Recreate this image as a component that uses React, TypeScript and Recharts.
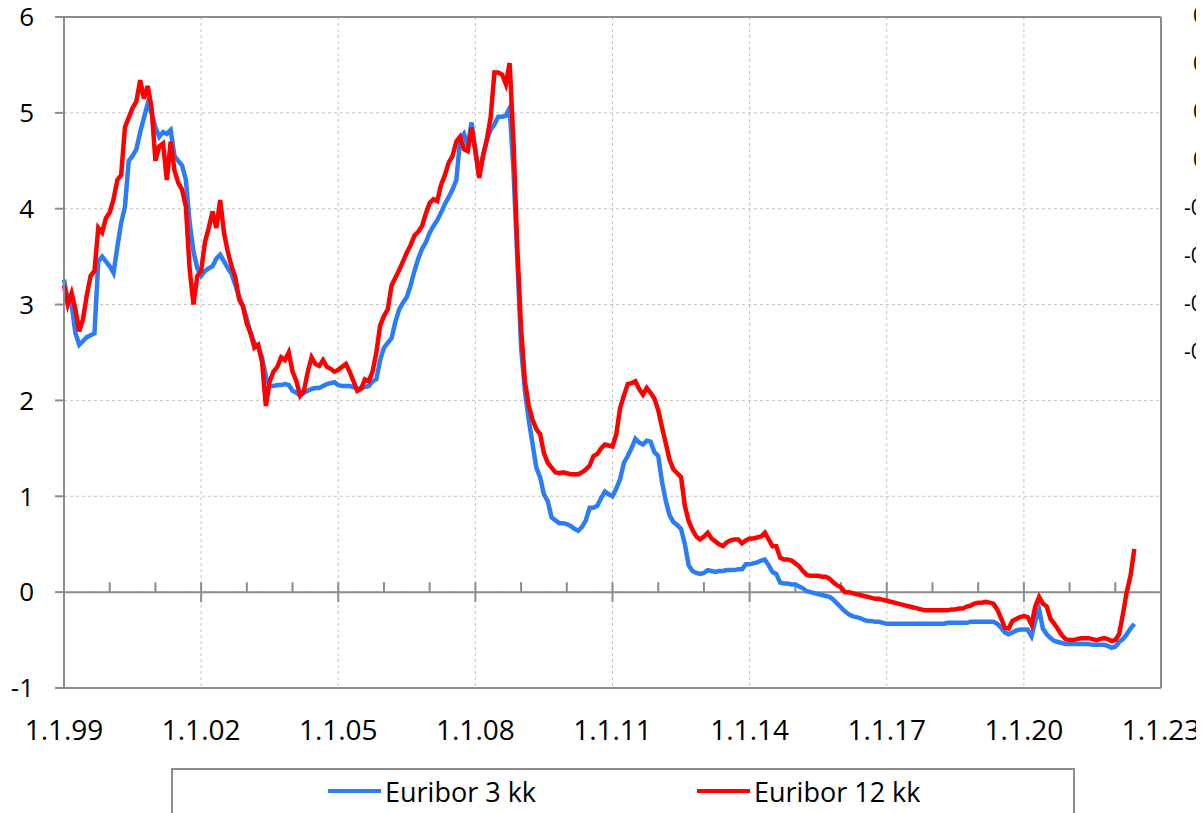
import { LineChart, Line, XAxis, YAxis, CartesianGrid, ReferenceLine, Legend } from 'recharts';

const FONT = "'Open Sans', sans-serif";
const GRAY = '#8c8c8c';

// x axis: months since 1.1.1999
const YEAR_LABELS = ['1.1.99', '1.1.02', '1.1.05', '1.1.08', '1.1.11', '1.1.14', '1.1.17', '1.1.20', '1.1.23'];
const X_TICKS = [0, 36, 72, 108, 144, 180, 216, 252, 288];
const Y_TICKS = [-1, 0, 1, 2, 3, 4, 5, 6];
const RIGHT_TICKS = [0.7, 0.5, 0.3, 0.1, -0.1, -0.3, -0.5, -0.7];

const SERIES_NAMES = ['Euribor 3 kk', 'Euribor 12 kk'];
const SERIES_COLORS = ['#2c7df3', '#ff0000'];

// monthly values, Jan 1999 .. Jun 2022
const euribor3 = [
  3.26, 3.05, 3.0, 2.7, 2.58, 2.62, 2.66, 2.68, 2.7, 3.45, 3.5, 3.45,
  3.4, 3.33, 3.6, 3.85, 4.02, 4.5, 4.55, 4.62, 4.8, 4.95, 5.1, 5.0,
  4.85, 4.75, 4.8, 4.78, 4.82, 4.55, 4.5, 4.45, 4.3, 3.85, 3.55, 3.38,
  3.3, 3.35, 3.38, 3.4, 3.48, 3.52, 3.45, 3.38, 3.32, 3.2, 3.08, 2.98,
  2.85, 2.7, 2.6, 2.55, 2.45, 2.25, 2.15, 2.15, 2.16, 2.16, 2.17, 2.16,
  2.1, 2.08, 2.05, 2.08, 2.1, 2.12, 2.13, 2.13, 2.15, 2.17, 2.18, 2.19,
  2.16, 2.15, 2.15, 2.15, 2.14, 2.12, 2.13, 2.14, 2.15, 2.2, 2.22, 2.42,
  2.55, 2.6, 2.65, 2.82, 2.95, 3.02, 3.08, 3.2, 3.35, 3.48, 3.58, 3.65,
  3.75, 3.82, 3.88, 3.96, 4.05, 4.12, 4.2, 4.3, 4.72, 4.78, 4.65, 4.9,
  4.6, 4.35, 4.55, 4.72, 4.82, 4.88, 4.96, 4.96, 4.97, 5.05, 4.4, 3.5,
  2.55, 2.1, 1.8, 1.55, 1.3, 1.2, 1.02, 0.95, 0.78, 0.75, 0.72, 0.72,
  0.71, 0.69, 0.66, 0.64, 0.68, 0.75, 0.88, 0.88, 0.9, 0.98, 1.05, 1.02,
  1.0, 1.08, 1.18, 1.35, 1.42, 1.5, 1.6, 1.56, 1.54, 1.58, 1.57, 1.46,
  1.42, 1.15, 0.95, 0.8, 0.73, 0.7, 0.66, 0.5, 0.28, 0.22, 0.2, 0.19,
  0.2, 0.23, 0.22, 0.21, 0.22, 0.22, 0.23, 0.23, 0.23, 0.24, 0.24, 0.29,
  0.29, 0.3, 0.31, 0.33, 0.34, 0.28, 0.21, 0.19, 0.1, 0.09, 0.09, 0.08,
  0.08, 0.06, 0.04, 0.01, 0.0, -0.01, -0.02, -0.03, -0.04, -0.05, -0.08, -0.12,
  -0.16, -0.2, -0.23, -0.25, -0.26, -0.27, -0.29, -0.3, -0.3, -0.31, -0.31, -0.32,
  -0.33, -0.33, -0.33, -0.33, -0.33, -0.33, -0.33, -0.33, -0.33, -0.33, -0.33, -0.33,
  -0.33, -0.33, -0.33, -0.33, -0.32, -0.32, -0.32, -0.32, -0.32, -0.32, -0.31, -0.31,
  -0.31, -0.31, -0.31, -0.31, -0.31, -0.33, -0.37, -0.42, -0.44, -0.42, -0.4, -0.39,
  -0.39, -0.39, -0.46, -0.3, -0.18, -0.38, -0.44, -0.48, -0.51, -0.52, -0.53, -0.54,
  -0.54, -0.54, -0.54, -0.54, -0.54, -0.54, -0.55, -0.55, -0.55, -0.55, -0.56, -0.58,
  -0.57, -0.52, -0.49, -0.44, -0.38, -0.33,
];

const euribor12 = [
  3.2, 3.0, 3.12, 2.95, 2.72, 2.85, 3.1, 3.3, 3.35, 3.8, 3.75, 3.9,
  3.96, 4.1, 4.3, 4.35, 4.85, 4.95, 5.05, 5.12, 5.34, 5.15, 5.28, 5.05,
  4.5, 4.65, 4.68, 4.3, 4.7, 4.4, 4.27, 4.2, 4.02, 3.36, 3.0, 3.3,
  3.35, 3.65, 3.8, 3.97, 3.8, 4.09, 3.75, 3.55, 3.4, 3.28, 3.05, 2.98,
  2.8, 2.7, 2.55, 2.58, 2.4, 1.94, 2.2, 2.3, 2.35, 2.45, 2.42, 2.5,
  2.3, 2.2, 2.05, 2.1, 2.3, 2.45, 2.38, 2.36, 2.42, 2.35, 2.33, 2.3,
  2.32, 2.35, 2.38, 2.3, 2.2, 2.1, 2.12, 2.22, 2.2, 2.3, 2.5, 2.78,
  2.88, 2.95, 3.2, 3.28, 3.36, 3.45, 3.54, 3.62, 3.72, 3.76, 3.82, 3.95,
  4.06, 4.1, 4.08, 4.25, 4.35, 4.48, 4.55, 4.7, 4.75, 4.62, 4.6, 4.85,
  4.6, 4.32, 4.55, 4.72, 4.95, 5.42, 5.42, 5.4, 5.3, 5.52, 4.7, 3.6,
  2.75, 2.2, 1.95, 1.8, 1.7, 1.65, 1.45, 1.35, 1.3, 1.25, 1.24, 1.25,
  1.24, 1.23, 1.23, 1.23, 1.25, 1.28, 1.32, 1.42, 1.44, 1.5, 1.54, 1.53,
  1.52, 1.65, 1.92, 2.05, 2.17, 2.18, 2.2, 2.12, 2.06, 2.13, 2.08, 2.02,
  1.9, 1.72, 1.55, 1.38, 1.28, 1.24, 1.2, 0.9, 0.74, 0.65, 0.58, 0.55,
  0.58, 0.62, 0.56, 0.53, 0.5, 0.48, 0.52, 0.54, 0.55, 0.55, 0.51, 0.54,
  0.56, 0.56, 0.57, 0.58, 0.62, 0.55, 0.48, 0.48, 0.36, 0.34, 0.34, 0.33,
  0.3, 0.27, 0.22, 0.18, 0.17, 0.17, 0.17, 0.16, 0.16, 0.14, 0.1, 0.07,
  0.05, 0.0, 0.0, -0.01, -0.02, -0.03, -0.04, -0.05, -0.06, -0.07, -0.07, -0.08,
  -0.09, -0.1, -0.11, -0.12, -0.13, -0.14, -0.15, -0.16, -0.17, -0.18, -0.19, -0.19,
  -0.19, -0.19, -0.19, -0.19, -0.19, -0.18, -0.18, -0.17, -0.17, -0.15, -0.14, -0.12,
  -0.11, -0.11, -0.1, -0.11, -0.12, -0.18, -0.27, -0.37, -0.38, -0.3, -0.28, -0.26,
  -0.25, -0.26, -0.34, -0.15, -0.05, -0.12, -0.15, -0.28, -0.33, -0.39, -0.45, -0.49,
  -0.5, -0.5, -0.49, -0.48, -0.48, -0.48, -0.49, -0.5, -0.49, -0.48, -0.49, -0.51,
  -0.5, -0.44, -0.23, 0.0, 0.17, 0.45,
];

const data = euribor3.map((v, i) => ({ month: i, e3: v, e12: euribor12[i] }));

// small tick marks on the zero line, one per year
const YEAR_MARKS = Array.from({ length: 25 }, (_, k) => k * 12);

function LegendBox() {
  const lefts = [155, 524];
  return (
    <div
      style={{
        position: 'relative',
        boxSizing: 'border-box',
        width: 904,
        height: 60,
        border: `2px solid ${GRAY}`,
        borderBottom: 'none',
        background: '#fff',
        fontFamily: FONT,
        fontSize: 27,
        color: '#000',
      }}
    >
      {SERIES_NAMES.map((name, i) => (
        <div
          key={name}
          style={{ position: 'absolute', left: lefts[i], top: 0, height: 42, display: 'flex', alignItems: 'center', whiteSpace: 'nowrap' }}
        >
          <span style={{ display: 'inline-block', width: 53, height: 4, background: SERIES_COLORS[i], marginRight: 4 }} />
          <span>{name}</span>
        </div>
      ))}
    </div>
  );
}

// right-hand axis labels, only their first characters fit on the page
const renderRightTick = (props: any) => {
  const { x, y, payload } = props;
  const v = Number(payload.value);
  return (
    <text x={Number(x) + (v < 0 ? 21 : 30)} y={y} dy="0.3em" textAnchor="start" fontSize={21} fontFamily={FONT} fill="#000">
      {String(payload.value)}
    </text>
  );
};

export default function App() {
  return (
    <div style={{ position: 'relative' }}>
      <style>{'html, body { overflow: hidden; }'}</style>
      <LineChart width={1196} height={805} data={data} margin={{ top: 9, right: 0, bottom: 65, left: 0 }}>
        <CartesianGrid stroke="#c4c4c4" strokeDasharray="3 3" />
        <XAxis
          dataKey="month"
          type="number"
          domain={[0, 288]}
          ticks={X_TICKS}
          interval={0}
          tickFormatter={(v: number) => YEAR_LABELS[v / 36]}
          axisLine={false}
          tickLine={false}
          tickSize={0}
          tickMargin={32}
          height={60}
          tick={{ fontSize: 28, fill: '#000', fontFamily: FONT }}
        />
        <YAxis
          type="number"
          domain={[-1, 6]}
          ticks={Y_TICKS}
          interval={0}
          width={56}
          tickSize={9}
          tickMargin={21}
          axisLine={{ stroke: GRAY, strokeWidth: 2 }}
          tickLine={{ stroke: GRAY, strokeWidth: 2 }}
          tick={{ fontSize: 26, fill: '#000', fontFamily: FONT }}
        />
        <YAxis
          yAxisId="right"
          type="number"
          orientation="right"
          domain={[-2.1, 0.7]}
          allowDataOverflow
          ticks={RIGHT_TICKS}
          interval={0}
          width={43}
          tickSize={0}
          tickMargin={2}
          axisLine={{ stroke: GRAY, strokeWidth: 2 }}
          tickLine={false}
          tick={renderRightTick}
        />
        <ReferenceLine y={6} stroke={GRAY} strokeWidth={2} />
        <ReferenceLine y={-1} stroke={GRAY} strokeWidth={2} />
        <ReferenceLine y={0} stroke={GRAY} strokeWidth={2} />
        {YEAR_MARKS.map((m, k) => (
          <ReferenceLine
            key={m}
            segment={[{ x: m, y: 0.104 }, { x: m, y: k % 3 === 0 ? -0.104 : 0 }]}
            stroke={GRAY}
            strokeWidth={2}
          />
        ))}
        <Line type="linear" dataKey="e3" name={SERIES_NAMES[0]} stroke={SERIES_COLORS[0]} strokeWidth={4.5} dot={false} isAnimationActive={false} />
        <Line type="linear" dataKey="e12" name={SERIES_NAMES[1]} stroke={SERIES_COLORS[1]} strokeWidth={4.5} dot={false} isAnimationActive={false} />
        <Legend
          layout="vertical"
          align="center"
          verticalAlign="middle"
          wrapperStyle={{ left: 163, top: 760, width: 904, height: 60 }}
          content={() => <LegendBox />}
        />
      </LineChart>
    </div>
  );
}
